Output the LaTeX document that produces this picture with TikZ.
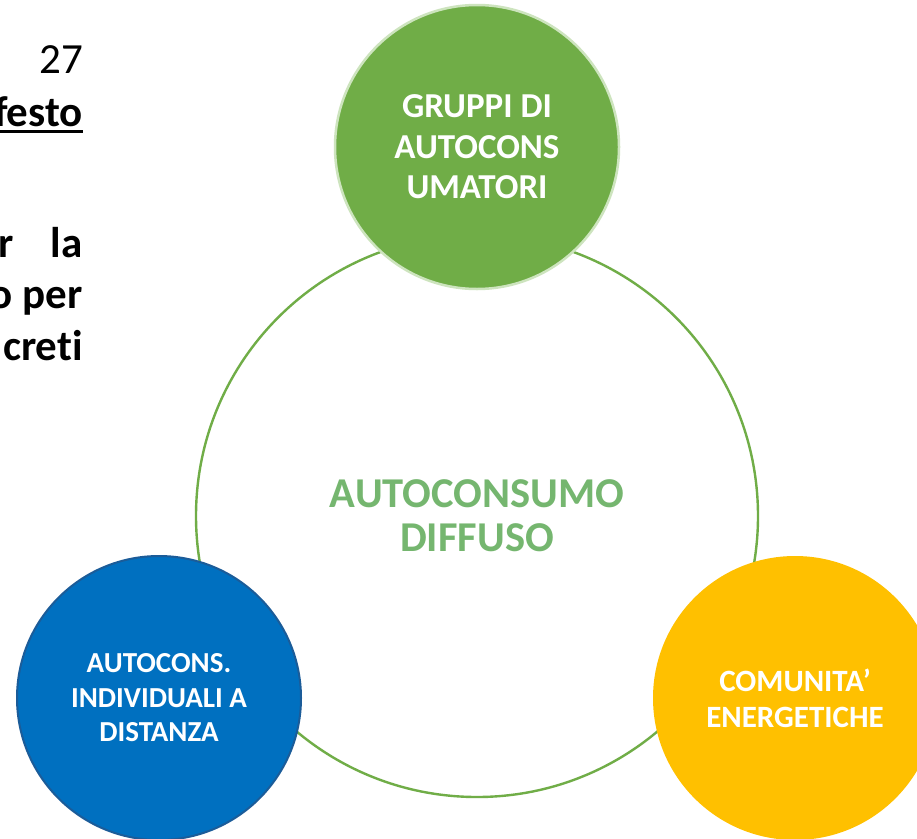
\documentclass[tikz,border=0pt]{standalone}
\usepackage{fontspec}
\setmainfont{Carlito}[Ligatures={NoCommon}]
\definecolor{gfill}{HTML}{70AD47}
\definecolor{gedge}{HTML}{CDE4BE}
\definecolor{bfill}{HTML}{0070C0}
\definecolor{bedge}{HTML}{1B5C99}
\definecolor{yfill}{HTML}{FFC000}
\definecolor{ctext}{HTML}{75B66F}
\begin{document}
\begin{tikzpicture}[x=1pt,y=-1pt,
  bubble/.style={circle, minimum size=284pt, inner sep=0pt, align=center, text=white},
  sidetext/.style={anchor=base east, inner sep=0pt, font=\fontsize{43}{52}\selectfont},
  sidebold/.style={sidetext, font=\bfseries\fontsize{43}{52}\selectfont}]
\useasboundingbox (0,0) rectangle (917,838);
\clip (0,0) rectangle (917,838);
\fill[white] (0,0) rectangle (917,838);
% left text
\node[sidetext] (n27) at (83,73) {27};
\node[sidebold] (testo) at (83,126) {festo};
\draw[line width=3pt] ([xshift=-20pt,yshift=-5.5pt]testo.base west) -- ([yshift=-5.5pt]testo.base east);
\node[sidebold] (la) at (83,257) {r\hspace{37pt}la};
\node[sidebold] (per) at (83,308) {o per};
\node[sidebold] (creti) at (83,360) {creti};
% hub
\node[circle, draw=gfill, line width=2.4pt, minimum size=562pt, inner sep=0pt, text=ctext, align=center,
      font=\bfseries\fontsize{42.5}{44}\selectfont] (hub) at (477,516) {AUTOCONSUMO\\DIFFUSO};
% satellites
\node[bubble, fill=gfill, draw=gedge, line width=2.5pt, font=\bfseries\fontsize{35}{40.5}\selectfont] (gruppi) at (477,147) {GRUPPI DI\\AUTOCONS\\UMATORI};
\node[bubble, fill=bfill, draw=bedge, line width=2pt, font=\bfseries\fontsize{29}{34.5}\selectfont] (indiv) at (159,698) {AUTOCONS.\\INDIVIDUALI A\\DISTANZA};
\node[bubble, fill=yfill, font=\bfseries\fontsize{31}{36}\selectfont] (comun) at (795,698) {COMUNITA’\\ENERGETICHE};
\end{tikzpicture}
\end{document}
